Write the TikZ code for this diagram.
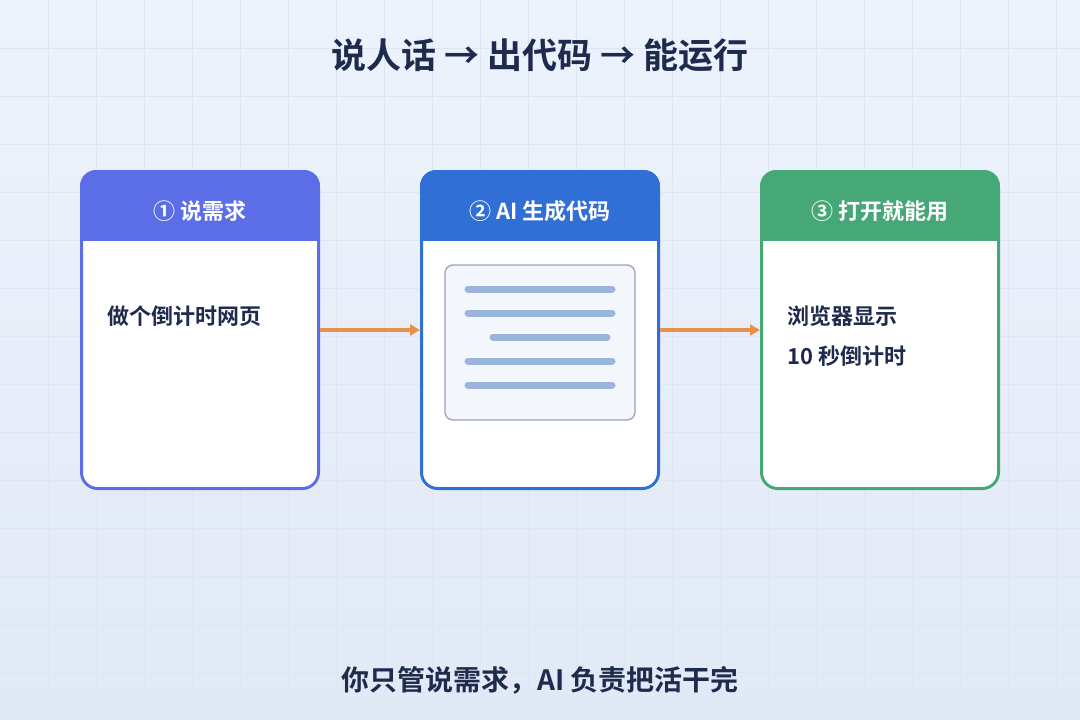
\documentclass[tikz,border=0pt]{standalone}
\usepackage{fontspec}
\setmainfont{Noto Sans CJK SC Bold}
\usetikzlibrary{arrows.meta}
\definecolor{bgA}{HTML}{EDF3FC}
\definecolor{bgB}{HTML}{E1E9F6}
\definecolor{gridc}{HTML}{DEE6F3}
\definecolor{ink}{HTML}{1E2B4D}
\definecolor{cA}{HTML}{5B6EE6}
\definecolor{cB}{HTML}{2F6FD6}
\definecolor{cC}{HTML}{45A876}
\definecolor{arr}{HTML}{E8914A}
\definecolor{codeln}{HTML}{9AB4DC}
\definecolor{codebd}{HTML}{9AA3B8}
\definecolor{codebg}{HTML}{F3F6FB}
\tikzset{
  head/.style={font=\fontsize{22}{26}\selectfont, text=white},
  body/.style={font=\fontsize{22}{26}\selectfont, text=ink, anchor=west},
  flow/.style={draw=arr, line width=3.5pt, -{Triangle[length=10pt,width=11pt]}},
  codeline/.style={draw=codeln, line width=7pt, line cap=round},
}
\begin{document}
\begin{tikzpicture}[x=1pt,y=-1pt]
\useasboundingbox (0,0) rectangle (1080,720);
\shade[top color=bgA, bottom color=bgB] (0,0) rectangle (1080,720);
\foreach \i in {48,96,...,1072} \draw[gridc, line width=0.8pt] (\i,0) -- (\i,720);
\foreach \j in {48,96,...,712} \draw[gridc, line width=0.8pt] (0,\j) -- (1080,\j);
\node[font=\fontsize{35}{40}\selectfont, text=ink] (title) at (540,55) {说人话 → 出代码 → 能运行};
\foreach \n/\x/\c/\t in {a/80/cA/① 说需求, b/420/cB/② AI 生成代码, c/760/cC/③ 打开就能用}{
  \begin{scope}
  \clip[rounded corners=16pt] (\x,170) rectangle (\x+240,490);
  \fill[white] (\x,170) rectangle (\x+240,490);
  \fill[\c] (\x,170) rectangle (\x+240,241);
  \end{scope}
  \draw[draw=\c, line width=3pt, rounded corners=16pt] (\x+1.5,171.5) rectangle (\x+238.5,488.5);
  \coordinate (\n L) at (\x,330);
  \coordinate (\n R) at (\x+240,330);
  \node[head] (\n h) at (\x+120,211) {\t};
}
\node[body] (ta) at (104,316) {做个倒计时网页};
\node[body] (tc1) at (784,316) {浏览器显示};
\node[body] (tc2) at (784,356) {10 秒倒计时};
\draw[draw=codebd, line width=1.3pt, fill=codebg, rounded corners=8pt] (445,265) rectangle (635,420);
\foreach \y/\a/\b in {289/468/612, 313/468/612, 337/493/607, 361/468/612, 385/468/612}
  \draw[codeline] (\a,\y) -- (\b,\y);
\draw[flow] (aR) -- (bL);
\draw[flow] (bR) -- (cL);
\node[font=\fontsize{28}{32}\selectfont, text=ink] (foot) at (540,680) {你只管说需求，AI 负责把活干完};
\end{tikzpicture}
\end{document}
